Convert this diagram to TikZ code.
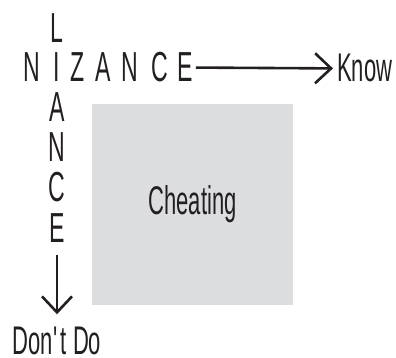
\documentclass[tikz,border=0pt]{standalone}
\usepackage{fontspec}
\setmainfont{Liberation Sans}[FakeStretch=0.55]
\usetikzlibrary{arrows.meta}
\definecolor{ink}{HTML}{231F20}
\definecolor{boxgray}{HTML}{DCDDDF}
\begin{document}
\begin{tikzpicture}[x=1pt,y=-1pt,
  letter/.style={font=\fontsize{42}{42}\selectfont, text=ink, inner sep=0pt, anchor=base},
  word/.style={font=\fontsize{40}{40}\selectfont, text=ink, inner sep=0pt},
  arr/.style={draw=ink, line width=2.6pt, -{Straight Barb[length=16pt,width=30pt,line width=2.6pt]}},
  quad/.style={fill=boxgray, minimum width=201pt, minimum height=201pt, inner sep=0pt}
]
\useasboundingbox (0,0) rectangle (396,358);

% shaded quadrant
\node[quad, word] (box) at (192.5,204.5) {Cheating};

% horizontal word
\node[letter] (hN1) at (32,82) {N};
\node[letter] (hI)  at (57,82) {I};
\node[letter] (hZ)  at (78,82) {Z};
\node[letter] (hA)  at (103,82) {A};
\node[letter] (hN2) at (130,82) {N};
\node[letter] (hC)  at (160,82) {C};
\node[letter] (hE)  at (185,82) {E};

% vertical word, sharing the I
\node[letter] (vL) at (57,43)  {L};
\node[letter] (vA) at (57,122) {A};
\node[letter] (vN) at (57,162) {N};
\node[letter] (vC) at (57,202) {C};
\node[letter] (vE) at (57,242) {E};

% axis labels
\node[word, anchor=base west] (know) at (337,82) {Know};
\node[word, anchor=base] (dont) at (57,354) {Don\textquotesingle t Do};

% axis arrows
\draw[arr, shorten <=3pt, shorten >=4pt] (hE.east) -- (know.west);
\draw[arr, shorten <=13pt, shorten >=12pt] (vE.south) -- (dont.north);
\end{tikzpicture}
\end{document}
